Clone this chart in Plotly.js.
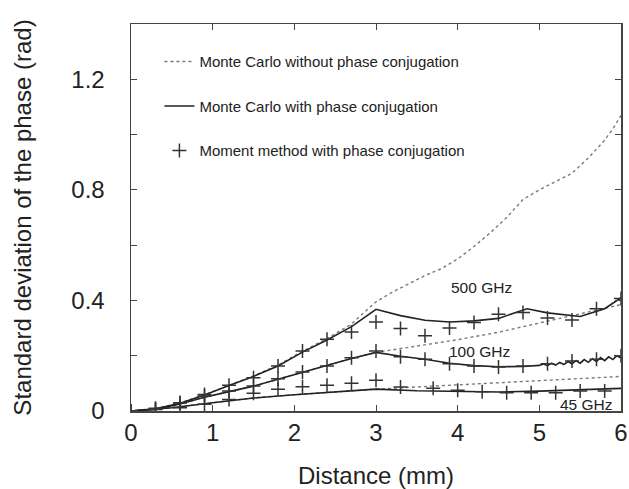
<!DOCTYPE html>
<html>
<head>
<meta charset="utf-8">
<script src="https://cdn.plot.ly/plotly-3.0.1.min.js"></script>
<style>html,body{margin:0;padding:0;background:#fff;}#chart{width:629px;height:489px;}</style>
</head>
<body>
<div id="chart"></div>
<script>
// ---- data ----
// Monte Carlo without phase conjugation
const noPc500X = [0, 0.3, 0.6, 0.9, 1.2, 1.5, 1.8, 2.1, 2.4, 2.7, 3.0, 3.2, 3.4, 3.6, 3.8, 4.0, 4.2, 4.4, 4.6, 4.8, 5.0, 5.2, 5.4, 5.6, 5.8, 5.9, 6.0];
const noPc500Y = [0, 0.009, 0.029, 0.059, 0.093, 0.127, 0.166, 0.216, 0.262, 0.315, 0.395, 0.43, 0.46, 0.49, 0.515, 0.55, 0.595, 0.645, 0.70, 0.765, 0.80, 0.83, 0.86, 0.915, 0.98, 1.02, 1.07];
const noPc100X = [0, 0.3, 0.6, 0.9, 1.2, 1.5, 1.8, 2.1, 2.4, 2.7, 3.0, 3.5, 4.0, 4.5, 5.0, 5.5, 6.0];
const noPc100Y = [0, 0.006, 0.025, 0.05, 0.07, 0.09, 0.115, 0.14, 0.165, 0.19, 0.212, 0.235, 0.258, 0.285, 0.318, 0.35, 0.385];
const noPc45X = [0, 0.5, 1.0, 1.5, 2.0, 2.5, 3.0, 3.5, 4.0, 4.5, 5.0, 5.5, 6.0];
const noPc45Y = [0, 0.012, 0.03, 0.047, 0.059, 0.07, 0.079, 0.087, 0.095, 0.103, 0.11, 0.117, 0.125];

// Monte Carlo with phase conjugation
const pc500X = [0, 0.3, 0.6, 0.9, 1.2, 1.5, 1.8, 2.1, 2.4, 2.7, 3.0, 3.3, 3.6, 3.9, 4.2, 4.5, 4.85, 5.1, 5.5, 5.8, 6.0];
const pc500Y = [0, 0.008, 0.028, 0.058, 0.092, 0.125, 0.163, 0.213, 0.257, 0.305, 0.368, 0.345, 0.328, 0.322, 0.326, 0.335, 0.37, 0.355, 0.342, 0.37, 0.41];
const pc100X = [0, 0.3, 0.6, 0.9, 1.2, 1.5, 1.8, 2.1, 2.4, 2.7, 3.0, 3.3, 3.6, 3.9, 4.2, 4.5, 4.8, 5.0, 5.05, 5.1, 5.15, 5.2, 5.25, 5.3, 5.35, 5.4, 5.45, 5.5, 5.55, 5.6, 5.65, 5.7, 5.75, 5.8, 5.85, 5.9, 5.95, 6.0];
const pc100Y = [0, 0.006, 0.025, 0.05, 0.07, 0.09, 0.115, 0.14, 0.165, 0.19, 0.212, 0.198, 0.187, 0.173, 0.164, 0.16, 0.161, 0.165, 0.170, 0.164, 0.173, 0.166, 0.176, 0.168, 0.179, 0.171, 0.182, 0.173, 0.186, 0.176, 0.189, 0.179, 0.193, 0.182, 0.196, 0.186, 0.200, 0.192];
const pc45X = [0, 0.5, 1.0, 1.5, 2.0, 2.5, 3.0, 3.5, 4.0, 4.5, 5.0, 5.5, 6.0];
const pc45Y = [0, 0.012, 0.03, 0.047, 0.059, 0.07, 0.079, 0.073, 0.07, 0.069, 0.072, 0.076, 0.082];

// Moment method with phase conjugation
const mm500X = [0, 0.3, 0.6, 0.9, 1.2, 1.5, 1.8, 2.1, 2.4, 2.7, 3.0, 3.3, 3.6, 3.9, 4.2, 4.5, 4.8, 5.1, 5.4, 5.7, 6.0];
const mm500Y = [0, 0.005, 0.03, 0.06, 0.093, 0.12, 0.163, 0.217, 0.26, 0.286, 0.322, 0.298, 0.272, 0.30, 0.32, 0.35, 0.356, 0.336, 0.329, 0.37, 0.407];
const mm100X = [0, 0.3, 0.6, 0.9, 1.2, 1.5, 1.8, 2.1, 2.4, 2.7, 3.0, 3.3, 3.6, 3.9, 4.2, 4.5, 4.8, 5.1, 5.4, 5.7, 6.0];
const mm100Y = [0, 0.01, 0.03, 0.054, 0.072, 0.09, 0.117, 0.141, 0.163, 0.193, 0.217, 0.196, 0.187, 0.171, 0.163, 0.159, 0.163, 0.171, 0.181, 0.187, 0.2];
const mm45X = [0, 0.3, 0.6, 0.9, 1.2, 1.5, 1.8, 2.1, 2.4, 2.7, 3.0, 3.3, 3.7, 4.0, 4.3, 4.6, 4.9, 5.2, 5.5, 5.8];
const mm45Y = [0, 0.006, 0.012, 0.024, 0.042, 0.064, 0.079, 0.088, 0.093, 0.10, 0.111, 0.087, 0.082, 0.075, 0.07, 0.066, 0.066, 0.066, 0.072, 0.072];

const legendNames = ["Monte Carlo without phase conjugation", "Monte Carlo with phase conjugation", "Moment method with phase conjugation"];
const freqLabels = ["500 GHz", "100 GHz", "45 GHz"];
const freqLabelX = [4.29, 4.27, 5.58];
const freqLabelY = [0.445, 0.217, 0.022];
const yTickVals = [0, 0.4, 0.8, 1.2];
const yTickText = ["0", "0.4", "0.8", "1.2"];
const xTickVals = [0, 1, 2, 3, 4, 5, 6];

// ---- traces ----
const FONT = "Liberation Sans, Arial, sans-serif";
const dotStyle = {color: "#7a7a7a", width: 1.4, dash: "dot"};
const solidStyle = {color: "#222", width: 1.6};
const crossMarker = {symbol: "cross-thin-open", size: 10, line: {color: "#333", width: 1.5}, color: "#333"};

function line(x, y, style, name, group, show) {
  return {x: x, y: y, type: "scatter", mode: "lines", line: style, name: name,
          legendgroup: group, showlegend: show, hoverinfo: "skip"};
}
function marks(x, y, name, group, show) {
  return {x: x, y: y, type: "scatter", mode: "markers", marker: crossMarker, name: name,
          legendgroup: group, showlegend: show, hoverinfo: "skip"};
}

const data = [
  line(noPc500X, noPc500Y, dotStyle, legendNames[0], "a", true),
  line(noPc100X, noPc100Y, dotStyle, legendNames[0], "a", false),
  line(noPc45X, noPc45Y, dotStyle, legendNames[0], "a", false),
  line(pc500X, pc500Y, solidStyle, legendNames[1], "b", true),
  line(pc100X, pc100Y, solidStyle, legendNames[1], "b", false),
  line(pc45X, pc45Y, solidStyle, legendNames[1], "b", false),
  marks(mm500X, mm500Y, legendNames[2], "c", true),
  marks(mm100X, mm100Y, legendNames[2], "c", false),
  marks(mm45X, mm45Y, legendNames[2], "c", false)
];

const annotations = freqLabels.map((t, i) => ({
  x: freqLabelX[i], y: freqLabelY[i], xref: "x", yref: "y", text: t, showarrow: false,
  font: {family: FONT, size: 15.5, color: "#222"}
}));

const axisCommon = {
  showgrid: false, zeroline: false, showline: true, linecolor: "#444", linewidth: 1.5,
  mirror: "ticks", ticks: "inside", ticklen: 6, tickcolor: "#444", tickwidth: 1,
  tickfont: {family: FONT, size: 24, color: "#222"}
};

const layout = {
  width: 629, height: 489,
  margin: {l: 131, r: 8, t: 24, b: 78},
  paper_bgcolor: "#fff", plot_bgcolor: "#fff",
  font: {family: FONT, color: "#222"},
  showlegend: true,
  legend: {
    x: 0.058, y: 0.945, xanchor: "left", yanchor: "top",
    bgcolor: "rgba(0,0,0,0)", borderwidth: 0,
    traceorder: "grouped", tracegroupgap: 22,
    font: {family: FONT, size: 15, color: "#222"}
  },
  xaxis: Object.assign({}, axisCommon, {
    range: [0, 6], tickvals: xTickVals, ticklabelstandoff: 0,
    title: {text: "Distance (mm)", font: {family: FONT, size: 24, color: "#222"}, standoff: 22}
  }),
  yaxis: Object.assign({}, axisCommon, {
    range: [0, 1.4], tickvals: yTickVals, ticktext: yTickText, ticklabelstandoff: 20,
    minor: {dtick: 0.2, tick0: 0, ticks: "inside", ticklen: 6, tickcolor: "#444"},
    title: {text: "Standard deviation of the phase (rad)", font: {family: FONT, size: 24, color: "#222"}, standoff: 33}
  }),
  annotations: annotations
};

Plotly.newPlot("chart", data, layout, {displayModeBar: false, staticPlot: true});
</script>
</body>
</html>
